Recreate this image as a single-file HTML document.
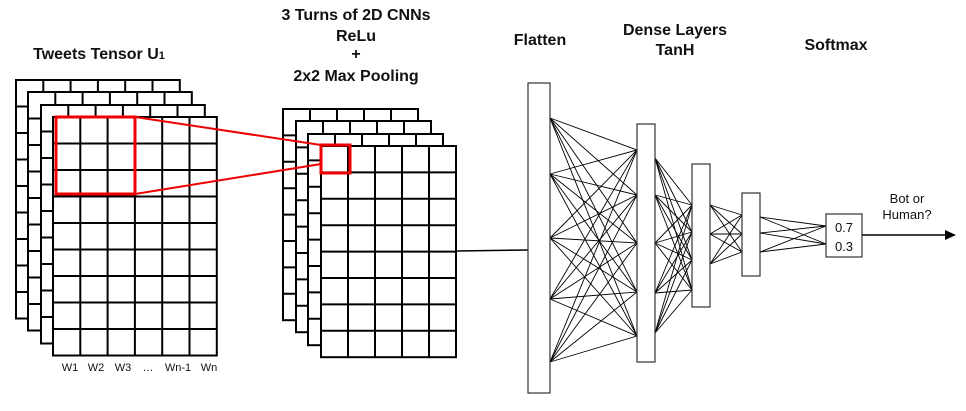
<!DOCTYPE html>
<html><head><meta charset="utf-8">
<style>
html,body{margin:0;padding:0;background:#fff;}
svg{display:block;font-family:"Liberation Sans",Arial,sans-serif;}
.t{font-weight:bold;font-size:16px;fill:#111;text-anchor:middle;}
.s{font-size:11px;fill:#111;text-anchor:middle;}
</style></head>
<body>
<svg id="svg" width="966" height="411" viewBox="0 0 966 411">
<g id="grids"></g>
<g id="net"></g>
<text class="t" x="99" y="59">Tweets Tensor U<tspan font-size="11">1</tspan></text>
<text class="t" x="356" y="20">3 Turns of 2D CNNs</text>
<text class="t" x="356" y="41">ReLu</text>
<text class="t" x="356" y="59">+</text>
<text class="t" x="356" y="81">2x2 Max Pooling</text>
<text class="t" x="540" y="45">Flatten</text>
<text class="t" x="675" y="35">Dense Layers</text>
<text class="t" x="675" y="55">TanH</text>
<text class="t" x="836" y="50">Softmax</text>
<g>
<text class="s" x="70" y="371">W1</text><text class="s" x="96" y="371">W2</text><text class="s" x="123" y="371">W3</text><text class="s" x="148" y="371">…</text><text class="s" x="178" y="371">Wn-1</text><text class="s" x="209" y="371">Wn</text>
</g>
<text x="907" y="203" font-size="13" text-anchor="middle" fill="#111">Bot or</text>
<text x="907" y="219" font-size="13" text-anchor="middle" fill="#111">Human?</text>
</svg>
<script>
const NS="http://www.w3.org/2000/svg";
const grids=document.getElementById('grids');
const net=document.getElementById('net');
function el(p,tag,a){const e=document.createElementNS(NS,tag);for(const k in a)e.setAttribute(k,a[k]);p.appendChild(e);return e;}
function grid(x,y,cols,rows,cw,rh,name){
  const g=el(grids,'g',{});
  
  
  el(g,'rect',{x:x,y:y,width:cols*cw,height:rows*rh,fill:'#fff',stroke:'#000','stroke-width':2});
  for(let i=1;i<cols;i++)el(g,'line',{x1:x+i*cw,y1:y,x2:x+i*cw,y2:y+rows*rh,stroke:'#000','stroke-width':2});
  for(let j=1;j<rows;j++)el(g,'line',{x1:x,y1:y+j*rh,x2:x+cols*cw,y2:y+j*rh,stroke:'#000','stroke-width':2});
}
// input tensor stack
[[16,80],[28,92],[41,105],[53,117]].forEach((p,i)=>grid(p[0],p[1],6,9,27.3,26.5,'tensor-layer-'+(i+1)));
// cnn stack
[[283,109],[296,121],[308,134],[321,146]].forEach((p,i)=>grid(p[0],p[1],5,8,27,26.4,'cnn-layer-'+(i+1)));
// red highlight
const r=el(grids,'g',{});


el(r,'rect',{x:56,y:117,width:79,height:77,fill:'none',stroke:'#e00','stroke-width':3});
el(r,'rect',{x:321,y:145,width:29,height:28,fill:'none',stroke:'#e00','stroke-width':3});
el(r,'line',{x1:135,y1:117,x2:321,y2:145,stroke:'#e00','stroke-width':2});
el(r,'line',{x1:135,y1:194,x2:321,y2:164,stroke:'#e00','stroke-width':2});
// connection to flatten
el(net,'line',{x1:456,y1:251,x2:528,y2:250,stroke:'#000','stroke-width':1.5});
// layers
const layers=[[528,83,22,310,'flatten-layer'],[637,124,18,238,'dense-layer-1'],[692,164,18,143,'dense-layer-2'],[742,193,18,83,'dense-layer-3']];
const conns=[
 [550,[118,174,238,299,362],637,[150,195,243,292,336]],
 [655,[158,195,243,293,333],692,[205,232,260,290]],
 [710,[205,234,264],742,[215,234,252]],
 [760,[217,233,252],826,[226,244]]
];
conns.forEach((c,ci)=>{c[1].forEach(a=>c[3].forEach(b=>{
  const l=el(net,'line',{x1:c[0],y1:a,x2:c[2],y2:b,stroke:'#000','stroke-width':0.9});
  
  
}));});
layers.forEach(L=>{
  const e=el(net,'rect',{x:L[0],y:L[1],width:L[2],height:L[3],fill:'#fff',stroke:'#333','stroke-width':1.2});
  
  
});
const ob=el(net,'rect',{x:826,y:214,width:36,height:43,fill:'#fff',stroke:'#333','stroke-width':1.2});


const t1=el(net,'text',{x:844,y:232,'font-size':13,'text-anchor':'middle',fill:'#111'});t1.textContent='0.7';


const t2=el(net,'text',{x:844,y:251,'font-size':13,'text-anchor':'middle',fill:'#111'});t2.textContent='0.3';


const ar=el(net,'line',{x1:862,y1:235,x2:946,y2:235,stroke:'#000','stroke-width':1.5});


const ah=el(net,'polygon',{points:'945,230 956,235 945,240',fill:'#000'});


</script>
</body></html>
